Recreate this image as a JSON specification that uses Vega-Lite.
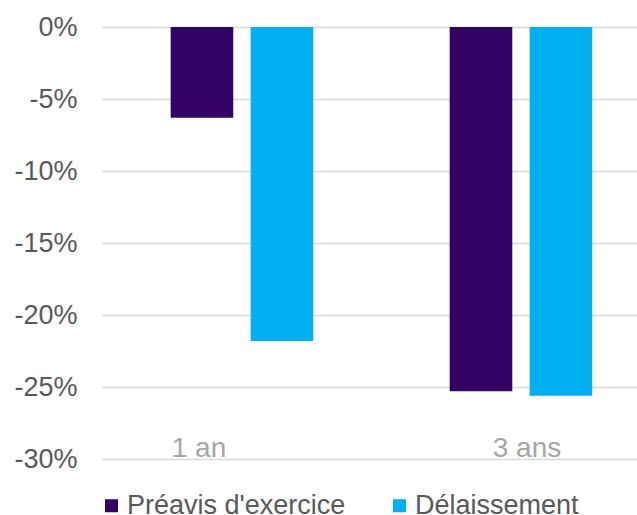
{
  "$schema": "https://vega.github.io/schema/vega-lite/v6.json",
  "autosize": "none",
  "width": 536,
  "height": 432,
  "padding": {"left": 101, "top": 27, "right": 0, "bottom": 56},
  "background": "white",
  "config": {
    "view": {"stroke": null},
    "font": "Liberation Sans"
  },
  "data": {
    "values": [
      {"periode": "1 an", "serie": "Préavis d'exercice", "valeur": -6.3},
      {"periode": "1 an", "serie": "Délaissement", "valeur": -21.8},
      {"periode": "3 ans", "serie": "Préavis d'exercice", "valeur": -25.3},
      {"periode": "3 ans", "serie": "Délaissement", "valeur": -25.6}
    ]
  },
  "mark": {"type": "bar"},
  "encoding": {
    "x": {
      "field": "periode",
      "type": "nominal",
      "sort": ["1 an", "3 ans"],
      "scale": {"paddingInner": 0.489, "paddingOuter": 0.205, "align": 0.609},
      "axis": {
        "title": null,
        "orient": "bottom",
        "domain": false,
        "ticks": false,
        "tickSize": 0,
        "labelAngle": 0,
        "labelFontSize": 28,
        "labelColor": "#a6a6a6",
        "labelBaseline": "alphabetic",
        "labelPadding": -2.5,
        "labelOffset": {"condition": {"test": "datum.value === '1 an'", "value": -43}, "value": 6}
      }
    },
    "xOffset": {
      "field": "serie",
      "type": "nominal",
      "sort": ["Préavis d'exercice", "Délaissement"],
      "scale": {"paddingInner": 0.2175, "paddingOuter": 0}
    },
    "y": {
      "field": "valeur",
      "type": "quantitative",
      "scale": {"domain": [-30, 0], "nice": false, "zero": true},
      "axis": {
        "title": null,
        "values": [0, -5, -10, -15, -20, -25, -30],
        "labelExpr": "datum.value + '%'",
        "domain": false,
        "ticks": false,
        "tickSize": 0,
        "labelPadding": 24,
        "labelFontSize": 27,
        "labelColor": "#595959",
        "grid": true,
        "gridColor": "#d9d9d9",
        "gridWidth": 1.3
      }
    },
    "color": {
      "field": "serie",
      "type": "nominal",
      "sort": ["Préavis d'exercice", "Délaissement"],
      "scale": {"range": ["#330066", "#00b0f0"]},
      "legend": {
        "title": null,
        "orient": "none",
        "direction": "horizontal",
        "legendX": -3,
        "legendY": 465,
        "symbolType": "square",
        "symbolSize": 169,
        "symbolStrokeWidth": 0,
        "labelFontSize": 27,
        "labelLimit": 400,
        "labelColor": "#595959",
        "labelOffset": 2,
        "columnPadding": 40
      }
    }
  }
}
